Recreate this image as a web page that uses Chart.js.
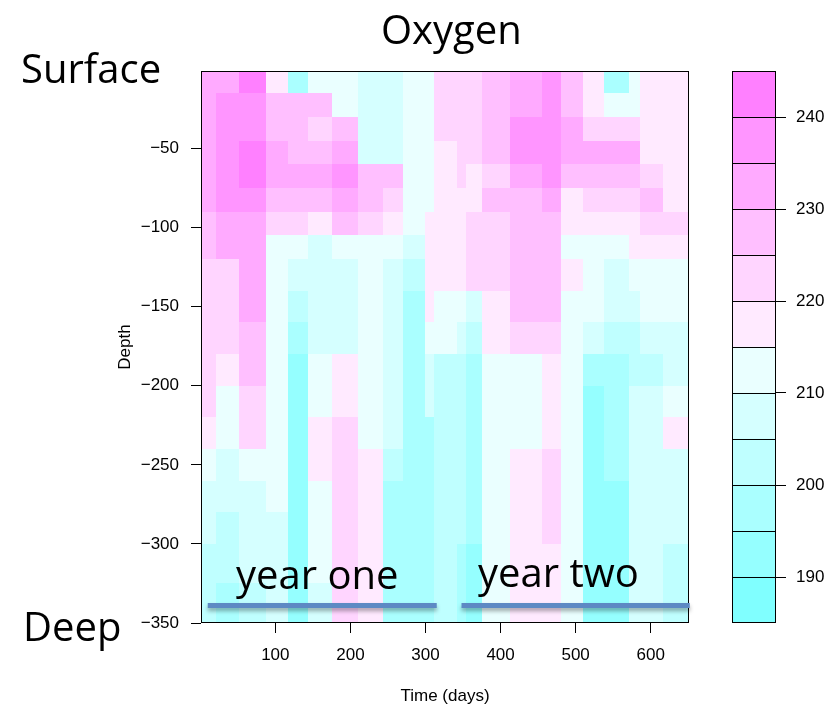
<!DOCTYPE html>
<html>
<head>
<meta charset="utf-8">
<script src="https://cdn.jsdelivr.net/npm/chart.js@4.4.1/dist/chart.umd.min.js"></script>
<style>
  html, body { margin: 0; padding: 0; background: #fff; }
  #wrap { position: relative; width: 835px; height: 707px; overflow: hidden; }
  canvas { position: absolute; top: 0; }
  #plot { left: 0; }
  #key { left: 700px; }
  .note { position: absolute; font-family: 'Open Sans', sans-serif; font-size: 40px; line-height: 40px; color: #000; white-space: nowrap; }
</style>
</head>
<body>
<div id="wrap">
  <canvas id="plot" width="835" height="707"></canvas>
  <canvas id="key" width="135" height="707"></canvas>
  <div class="note" style="left:381px; top:9px;">Oxygen</div>
  <div class="note" style="left:21px; top:48px;">Surface</div>
  <div class="note" style="left:23px; top:606px;">Deep</div>
  <div class="note" style="left:236px; top:554px;">year one</div>
  <div class="note" style="left:478px; top:552px;">year two</div>
</div>
<script>
// ----- DATA ----- //
// time intervals (days) and depth intervals (m) of the oxygen grid
const dayEdges = [1, 21, 51, 88, 117, 143, 176, 210, 243, 270, 299, 312, 342, 354, 375, 413, 455, 481, 510, 538, 571, 586, 617, 651];
const depthEdges = [-1, -15, -30, -45, -60, -75, -90, -105, -120, -140, -160, -180, -200, -220, -240, -260, -280, -300, -325, -350];

// oxygen, one list per time interval, surface -> deep
const oxygen = [
    [232, 233, 232, 234, 233, 232, 228, 227, 222, 223, 222, 221, 222, 217, 212, 208, 207, 203, 202],
    [233, 237, 238, 238, 237, 236, 232, 231, 223, 222, 221, 218, 213, 212, 208, 207, 203, 202, 198],
    [242, 238, 237, 241, 242, 237, 233, 232, 231, 230, 228, 227, 223, 221, 212, 208, 207, 206, 203],
    [218, 228, 229, 232, 233, 228, 222, 213, 212, 212, 211, 212, 213, 212, 211, 211, 208, 207, 207],
    [198, 227, 228, 229, 232, 228, 222, 212, 208, 203, 198, 193, 192, 192, 193, 192, 192, 191, 191],
    [212, 227, 224, 228, 231, 227, 218, 208, 207, 207, 208, 211, 213, 217, 218, 213, 212, 211, 208],
    [212, 213, 228, 232, 237, 233, 228, 212, 208, 207, 208, 216, 218, 221, 222, 222, 222, 221, 221],
    [208, 208, 207, 209, 227, 228, 222, 213, 212, 211, 211, 212, 213, 214, 216, 217, 217, 216, 216],
    [208, 207, 207, 208, 226, 223, 217, 212, 209, 207, 207, 208, 207, 206, 203, 198, 197, 197, 196],
    [213, 212, 212, 212, 211, 212, 211, 208, 203, 198, 197, 197, 196, 197, 196, 197, 196, 196, 196],
    [212, 212, 213, 213, 213, 214, 217, 218, 217, 216, 213, 208, 207, 198, 197, 197, 198, 197, 197],
    [222, 223, 221, 218, 217, 218, 217, 218, 217, 213, 211, 203, 202, 202, 203, 202, 202, 203, 202],
    [222, 222, 223, 222, 221, 218, 217, 217, 216, 212, 208, 203, 202, 202, 202, 202, 201, 198, 197],
    [222, 223, 222, 221, 218, 217, 221, 222, 221, 208, 203, 198, 197, 197, 197, 197, 196, 193, 192],
    [227, 228, 228, 227, 223, 226, 222, 222, 221, 218, 217, 213, 212, 212, 212, 212, 211, 212, 212],
    [231, 233, 237, 238, 233, 228, 228, 227, 228, 227, 223, 213, 212, 212, 216, 217, 217, 217, 216],
    [237, 236, 238, 239, 237, 232, 228, 227, 228, 227, 222, 218, 217, 217, 221, 222, 221, 217, 216],
    [227, 228, 231, 232, 228, 218, 217, 213, 216, 212, 211, 212, 212, 213, 212, 212, 211, 212, 212],
    [217, 218, 222, 233, 228, 222, 217, 213, 212, 211, 207, 198, 193, 192, 192, 192, 193, 192, 192],
    [198, 212, 222, 232, 228, 222, 218, 212, 208, 207, 203, 198, 197, 197, 196, 193, 192, 192, 192],
    [212, 213, 222, 231, 228, 222, 217, 216, 212, 207, 203, 202, 207, 208, 207, 207, 208, 207, 207],
    [217, 218, 217, 217, 222, 226, 222, 217, 212, 211, 208, 203, 207, 207, 208, 207, 207, 208, 207],
    [218, 217, 218, 217, 216, 217, 221, 217, 212, 211, 208, 207, 212, 216, 208, 207, 206, 203, 202]
];

const xTicks = [100, 200, 300, 400, 500, 600];
const yTicks = [-50, -100, -150, -200, -250, -300, -350];

// colour key (cm.colors with 12 levels)
const keyLevels = [185, 190, 195, 200, 205, 210, 215, 220, 225, 230, 235, 240, 245];
const keyColors = ['#80FFFF', '#95FFFF', '#AAFFFF', '#BFFFFF', '#D5FFFF', '#EAFFFF',
                   '#FFEAFF', '#FFD5FF', '#FFBFFF', '#FFAAFF', '#FF95FF', '#FF80FF'];
const keyTicks = [190, 200, 210, 220, 230, 240];

// "year one" / "year two" markers (days) and the depth they sit at
const yearSpans = [[10, 315], [348, 652]];
const yearLineDepth = -339;

Chart.defaults.font.family = "'Liberation Sans', Arial, sans-serif";
Chart.defaults.color = '#000';

function levelColor(v) {
    for (let i = 0; i < keyColors.length; i++) {
        if (v < keyLevels[i + 1]) return keyColors[i];
    }
    return keyColors[keyColors.length - 1];
}
const minusSign = v => String(v).replace('-', '\u2212');

// ----- FILLED GRID ----- //
const heatmap = {
    id: 'heatmap',
    beforeDatasetsDraw(chart) {
        const { ctx, scales: { x, y } } = chart;
        ctx.save();
        oxygen.forEach((col, i) => {
            const x0 = Math.round(x.getPixelForValue(dayEdges[i]));
            const x1 = Math.round(x.getPixelForValue(dayEdges[i + 1]));
            col.forEach((v, j) => {
                const y0 = Math.round(y.getPixelForValue(depthEdges[j]));
                const y1 = Math.round(y.getPixelForValue(depthEdges[j + 1]));
                ctx.fillStyle = levelColor(v);
                ctx.fillRect(x0, y0, x1 - x0, y1 - y0);
            });
        });
        ctx.restore();
    },
    afterDraw(chart) {
        const { ctx, chartArea: a, scales: { x, y } } = chart;
        ctx.save();
        ctx.strokeStyle = '#000';
        ctx.lineWidth = 1;
        ctx.strokeRect(a.left + 0.5, a.top + 0.5, a.width - 1, a.height - 1);
        // year markers
        ctx.strokeStyle = '#5d8ac4';
        ctx.lineWidth = 5;
        ctx.shadowColor = 'rgba(0,0,0,0.35)';
        ctx.shadowOffsetY = 3;
        ctx.shadowBlur = 4;
        const yy = y.getPixelForValue(yearLineDepth);
        yearSpans.forEach(([d0, d1]) => {
            ctx.beginPath();
            ctx.moveTo(x.getPixelForValue(d0), yy);
            ctx.lineTo(x.getPixelForValue(d1), yy);
            ctx.stroke();
        });
        ctx.restore();
    }
};

const tickFont = { size: 17 };

new Chart(document.getElementById('plot'), {
    type: 'scatter',
    data: { datasets: [{ data: [] }] },
    options: {
        responsive: false,
        animation: false,
        layout: { padding: { left: 0, top: 71, right: 146, bottom: 0 } },
        plugins: { legend: { display: false }, tooltip: { enabled: false } },
        scales: {
            x: {
                type: 'linear',
                min: dayEdges[0],
                max: dayEdges[dayEdges.length - 1],
                afterFit: s => { s.height = 84; },
                afterBuildTicks: s => { s.ticks = xTicks.map(v => ({ value: v })); },
                grid: { drawOnChartArea: false, tickLength: 10, color: '#000' },
                border: { display: false },
                ticks: { font: tickFont, padding: 12, maxRotation: 0 },
                title: { display: true, text: 'Time (days)', font: tickFont, padding: { top: 0, bottom: 0 } }
            },
            y: {
                type: 'linear',
                min: depthEdges[depthEdges.length - 1],
                max: depthEdges[0],
                afterFit: s => { s.width = 201; },
                afterBuildTicks: s => { s.ticks = yTicks.map(v => ({ value: v })); },
                grid: { drawOnChartArea: false, tickLength: 10, color: '#000' },
                border: { display: false },
                ticks: { font: tickFont, padding: 12, callback: minusSign },
                title: { display: true, text: 'Depth', font: tickFont, padding: { top: 115, bottom: 0 } }
            }
        }
    },
    plugins: [heatmap]
});

// ----- COLOUR KEY ----- //
const keyFrame = {
    id: 'keyFrame',
    afterDatasetsDraw(chart) {
        const { ctx, chartArea: a, scales: { y } } = chart;
        ctx.save();
        ctx.strokeStyle = '#000';
        ctx.lineWidth = 1;
        keyLevels.slice(1, -1).forEach(v => {
            const py = Math.round(y.getPixelForValue(v)) + 0.5;
            ctx.beginPath();
            ctx.moveTo(a.left, py);
            ctx.lineTo(a.right, py);
            ctx.stroke();
        });
        ctx.strokeRect(a.left + 0.5, a.top + 0.5, a.width - 1, a.height - 1);
        ctx.restore();
    }
};

new Chart(document.getElementById('key'), {
    type: 'bar',
    data: {
        labels: [''],
        datasets: keyColors.map((c, i) => ({
            data: [[keyLevels[i], keyLevels[i + 1]]],
            backgroundColor: c,
            borderWidth: 0,
            grouped: false,
            barPercentage: 1,
            categoryPercentage: 1
        }))
    },
    options: {
        responsive: false,
        animation: false,
        layout: { padding: { left: 32, top: 71, right: 0, bottom: 84 } },
        plugins: { legend: { display: false }, tooltip: { enabled: false } },
        scales: {
            x: { display: false },
            y: {
                position: 'right',
                min: keyLevels[0],
                max: keyLevels[keyLevels.length - 1],
                afterFit: s => { s.width = 59; },
                afterBuildTicks: s => { s.ticks = keyTicks.map(v => ({ value: v })); },
                grid: { drawOnChartArea: false, tickLength: 10, color: '#000' },
                border: { display: false },
                ticks: { font: tickFont, padding: 10 }
            }
        }
    },
    plugins: [keyFrame]
});
</script>
</body>
</html>
